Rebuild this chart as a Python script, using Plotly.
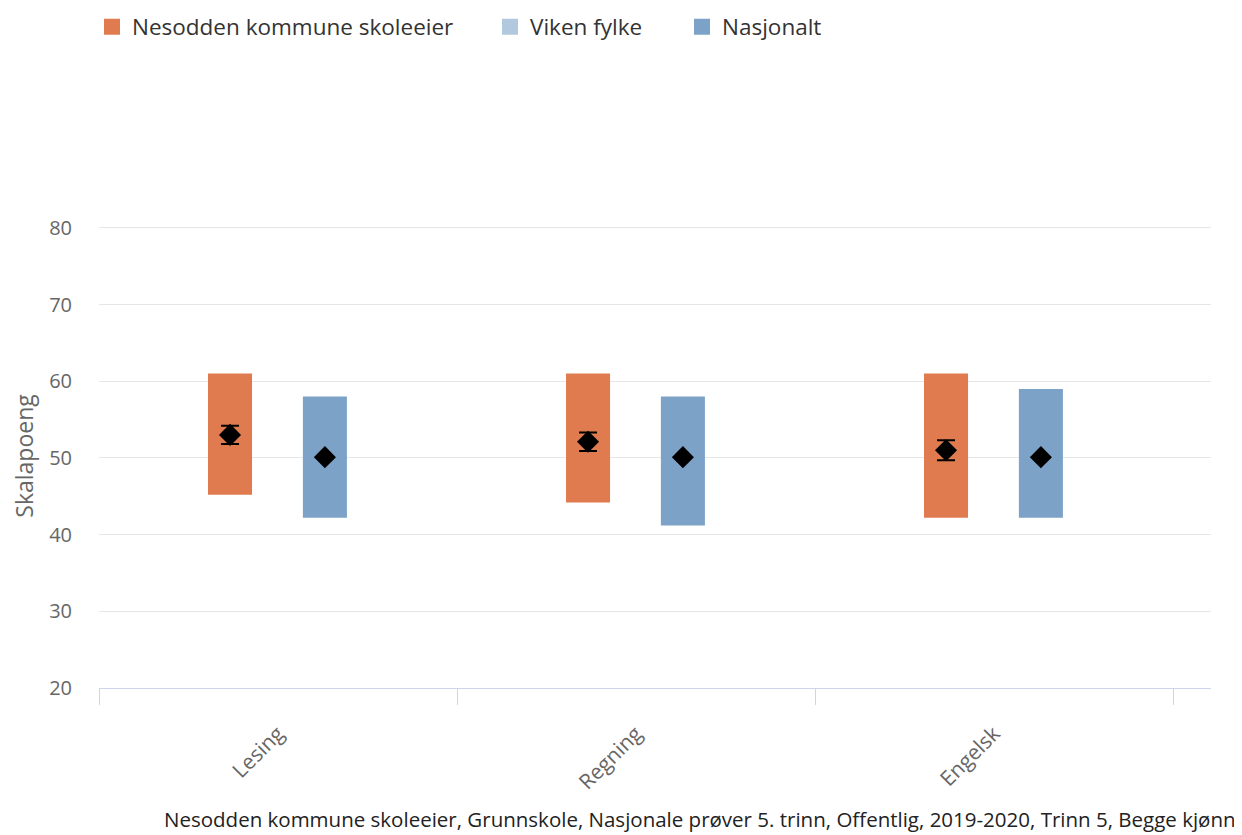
import plotly.graph_objects as go

categories = ["Lesing", "Regning", "Engelsk"]
series_names = ["Nesodden kommune skoleeier", "Viken fylke", "Nasjonalt"]

nesodden_low = [45.2, 44.2, 42.2]
nesodden_high = [61.0, 61.0, 61.0]
nesodden_mean = [53.0, 52.1, 51.0]
nesodden_err = [1.2, 1.2, 1.3]

viken_low = [None, None, None]
viken_high = [None, None, None]

nasjonalt_low = [42.2, 41.2, 42.2]
nasjonalt_high = [58.0, 58.0, 59.0]
nasjonalt_mean = [50.1, 50.1, 50.1]

y_ticks = [20, 30, 40, 50, 60, 70, 80]

colors = ["#E07B4F", "#B2C8DF", "#7CA3C7"]
FONT = "Open Sans, DejaVu Sans, sans-serif"

W, H = 1234, 827  # page has 8px body margin

idx = list(range(len(categories)))
offsets = [-0.134, 0.0, 0.131]
bar_w = 0.123
legend_ids = ["legend", "legend2", "legend3"]
legend_x = [84, 482, 674]

fig = go.Figure()

def span(low, high):
    return [None if (l is None or h is None) else h - l for l, h in zip(low, high)]

for k, (name, low, high, col, off) in enumerate([
    (series_names[0], nesodden_low, nesodden_high, colors[0], offsets[0]),
    (series_names[1], viken_low, viken_high, colors[1], offsets[1]),
    (series_names[2], nasjonalt_low, nasjonalt_high, colors[2], offsets[2]),
]):
    fig.add_trace(go.Bar(
        x=[i + off for i in idx], y=span(low, high), base=low,
        width=bar_w, marker=dict(color=col, line=dict(width=0)),
        name=name, showlegend=False, hoverinfo="skip",
    ))
    fig.add_trace(go.Scatter(
        x=[None], y=[None], mode="markers", name=name, legend=legend_ids[k],
        marker=dict(symbol="square", size=18, color=col),
    ))

fig.add_trace(go.Scatter(
    x=[i + offsets[0] for i in idx], y=nesodden_mean, mode="markers",
    marker=dict(symbol="diamond", size=17, color="black"),
    error_y=dict(type="data", array=nesodden_err, color="black", thickness=2, width=9),
    showlegend=False,
))
fig.add_trace(go.Scatter(
    x=[i + offsets[2] for i in idx], y=nasjonalt_mean, mode="markers",
    marker=dict(symbol="diamond", size=17, color="black"),
    showlegend=False,
))

# invisible trace on xaxis2 for category boundary ticks
fig.add_trace(go.Scatter(x=[None], y=[None], xaxis="x2", showlegend=False))

xrange = [-0.5, -0.5 + 1112 / 358]

legend_common = dict(
    orientation="h", xref="container", yref="container",
    y=1 - 19 / H, xanchor="left", yanchor="middle",
    font=dict(size=22.5, color="#333333", family=FONT),
    itemclick=False, bgcolor="rgba(0,0,0,0)",
)

fig.update_layout(
    width=W, height=H,
    margin=dict(l=91, r=31, t=216, b=147, autoexpand=False),
    paper_bgcolor="white", plot_bgcolor="white",
    font=dict(family=FONT, color="#333333"),
    barmode="overlay",
    showlegend=True,
    legend=dict(x=legend_x[0] / W, **legend_common),
    legend2=dict(x=legend_x[1] / W, **legend_common),
    legend3=dict(x=legend_x[2] / W, **legend_common),
    xaxis=dict(
        range=xrange, tickvals=idx, ticktext=categories, tickangle=-45,
        ticks="", showgrid=False, zeroline=False,
        showline=True, linecolor="#ccd6eb", linewidth=1,
        tickfont=dict(size=21, color="#666666", family=FONT),
        ticklabelstandoff=24,
    ),
    xaxis2=dict(
        range=xrange, overlaying="x", side="bottom", anchor="y",
        tickvals=[-0.5, 0.5, 1.5, 2.5], ticks="outside", ticklen=16,
        tickcolor="#ccd6eb", showticklabels=False, showgrid=False,
        zeroline=False, showline=False,
    ),
    yaxis=dict(
        range=[20, 80.5], tickvals=y_ticks, showgrid=True, gridcolor="#e6e6e6",
        zeroline=False, showline=False, ticks="",
        tickfont=dict(size=20, color="#666666", family=FONT),
        ticklabelstandoff=26,
        title=dict(text="Skalapoeng", font=dict(size=23, color="#666666", family=FONT), standoff=14),
    ),
    annotations=[dict(
        text="Nesodden kommune skoleeier, Grunnskole, Nasjonale prøver 5. trinn, Offentlig, 2019-2020, Trinn 5, Begge kjønn",
        xref="paper", yref="paper", x=(1238 - 99) / 1112, y=(688 - 819) / 464,
        xanchor="right", yanchor="middle", showarrow=False,
        font=dict(size=20.5, color="#222222", family=FONT),
    )],
)

fig.write_html("out.html")
